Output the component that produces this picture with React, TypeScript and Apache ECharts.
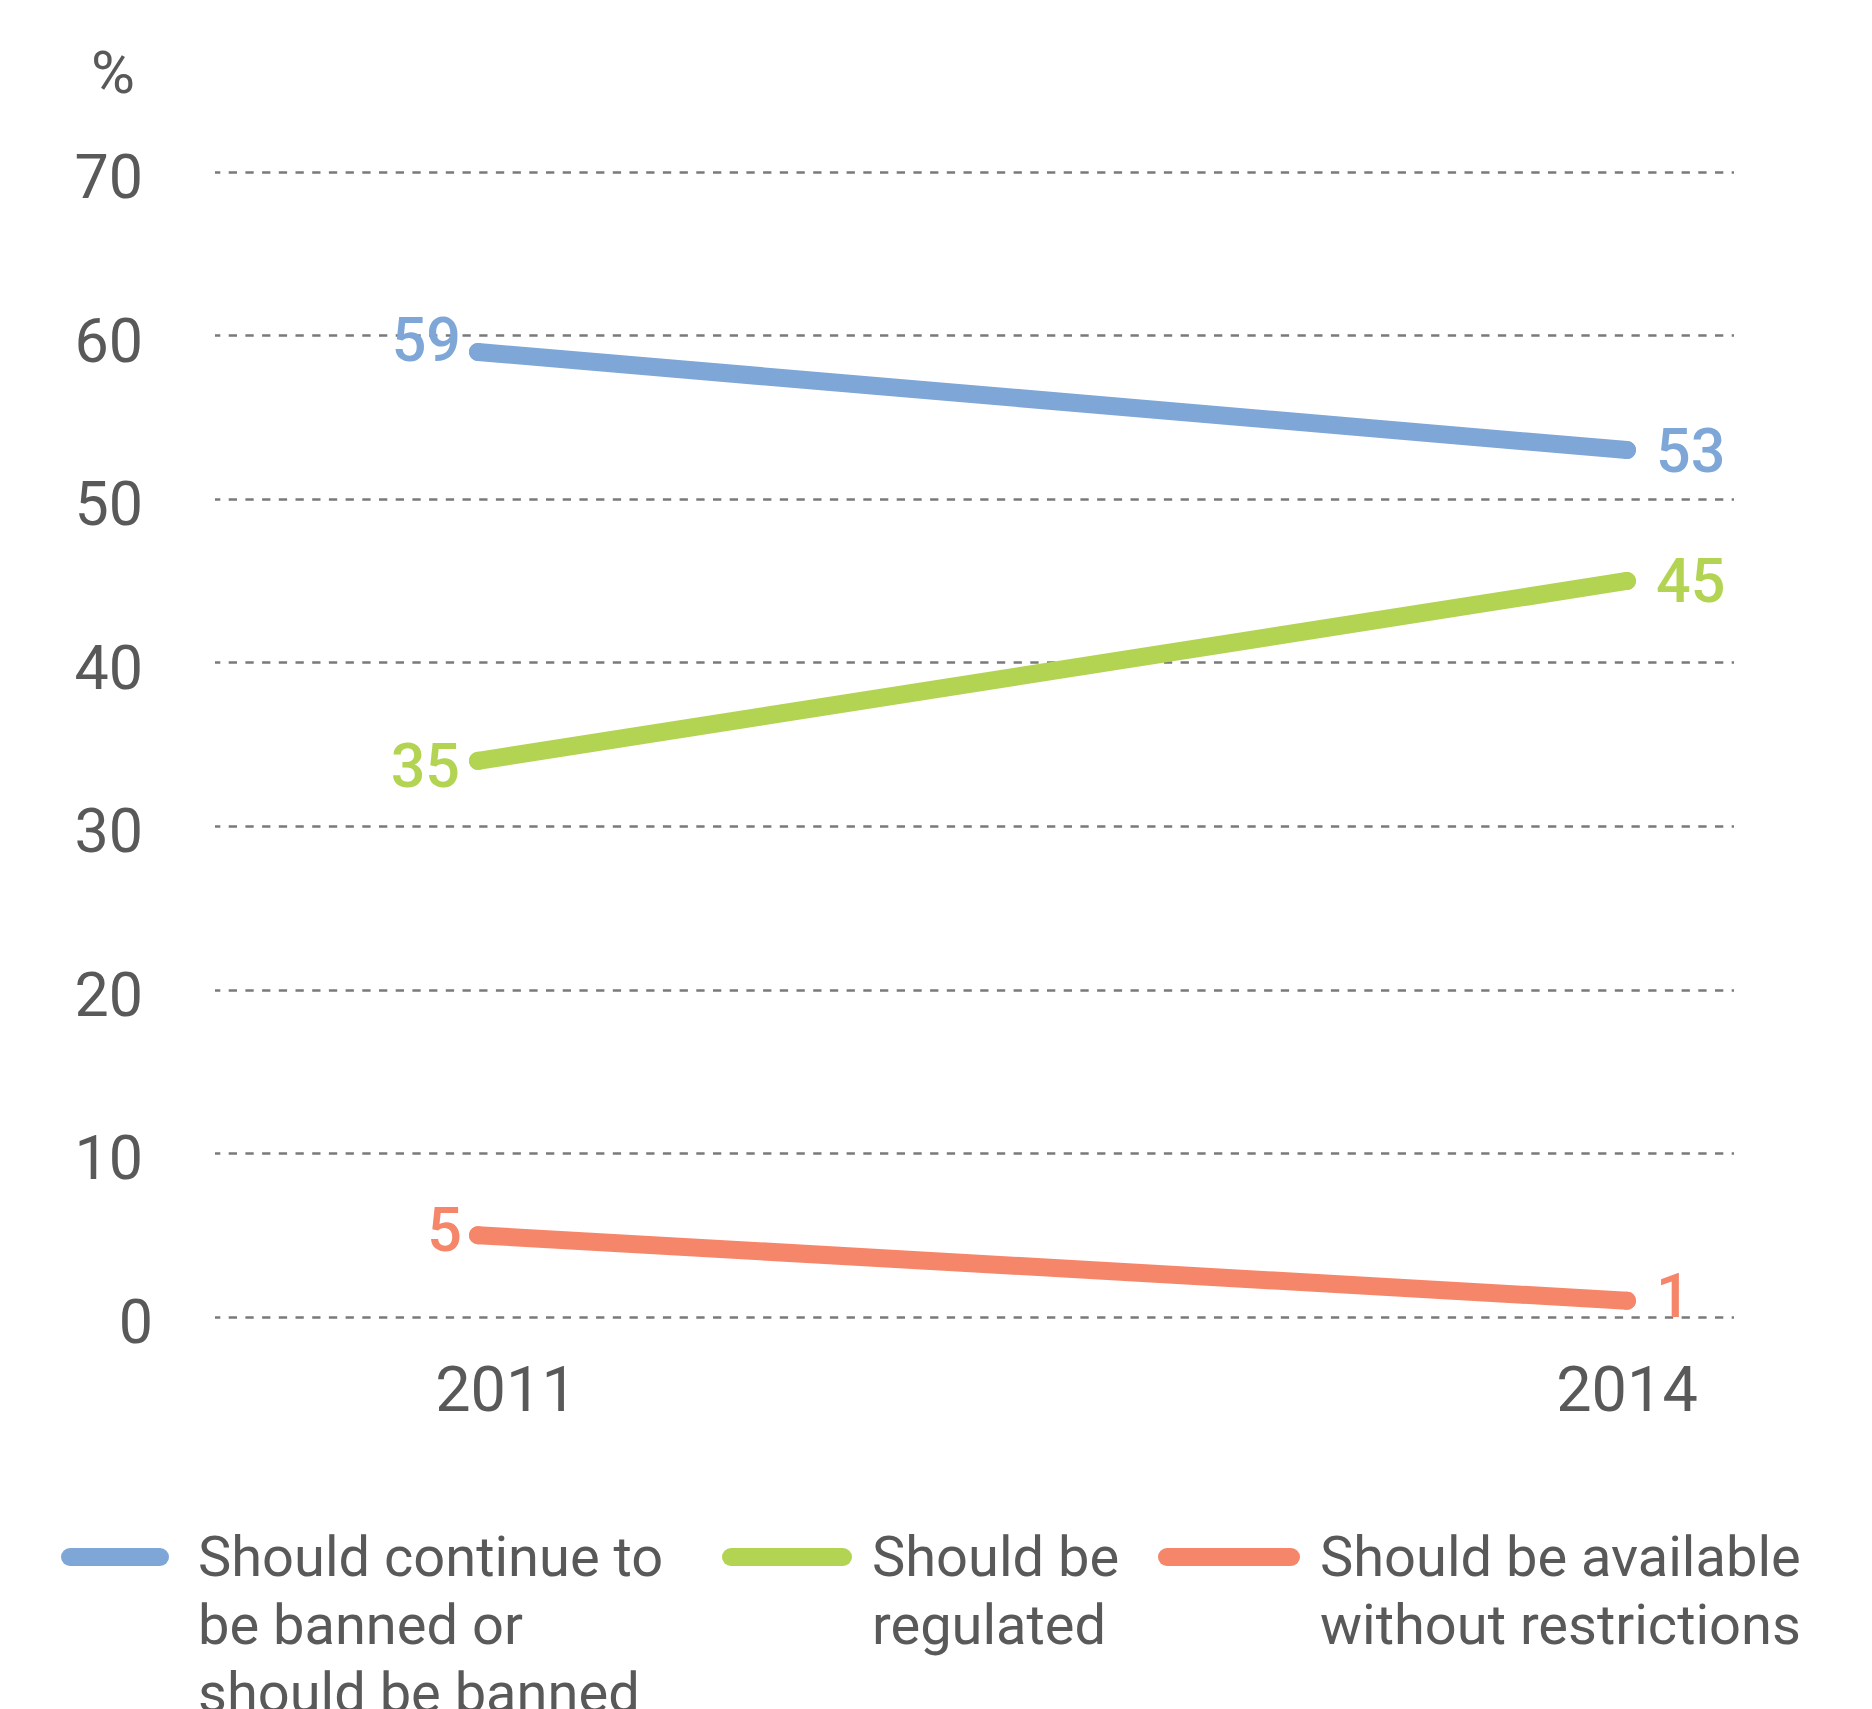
import React, { useEffect, useRef } from 'react';
import * as echarts from 'echarts';

const years = ['2011', '2014'];
const seriesNames = [
  'Should continue to be banned or should be banned',
  'Should be regulated',
  'Should be available without restrictions',
];
const legendLines = [
  ['Should continue to', 'be banned or', 'should be banned'],
  ['Should be', 'regulated'],
  ['Should be available', 'without restrictions'],
];
const bannedValues = [59, 53];
const regulatedValues = [34, 45];
const unrestrictedValues = [5, 1];
const bannedLabels = ['59', '53'];
const regulatedLabels = ['35', '45'];
const unrestrictedLabels = ['5', '1'];
const yMin = 0;
const yMax = 70;
const yStep = 10;
const yUnit = '%';

const colors = ['#7ea7d8', '#b3d453', '#f5866a'];
const textGray = '#595959';
const FONT = 'Roboto';

export default function App() {
  const ref = useRef<HTMLDivElement>(null);
  useEffect(() => {
    const chart = echarts.init(ref.current!, null, { renderer: 'svg' });

    const labelPlacement = [
      [
        { position: 'left', distance: 8, offset: [0, -12] },
        { position: 'right', distance: 20, offset: [0, 1] },
      ],
      [
        { position: 'left', distance: 9, offset: [0, 5] },
        { position: 'right', distance: 20, offset: [0, 0] },
      ],
      [
        { position: 'left', distance: 7, offset: [0, -5] },
        { position: 'right', distance: 20, offset: [0, -5] },
      ],
    ];
    const valueSets = [bannedValues, regulatedValues, unrestrictedValues];
    const labelSets = [bannedLabels, regulatedLabels, unrestrictedLabels];

    const series = valueSets.map((vals, si) => ({
      name: seriesNames[si],
      type: 'line',
      xAxisIndex: 1,
      yAxisIndex: 1,
      symbol: 'circle',
      symbolSize: 18,
      color: colors[si],
      itemStyle: { color: colors[si], borderWidth: 0 },
      lineStyle: { width: 18, color: colors[si], cap: 'round' },
      emphasis: { disabled: true },
      data: vals.map((v, i) => ({
        value: v,
        label: {
          show: true,
          formatter: labelSets[si][i],
          position: labelPlacement[si][i].position,
          distance: labelPlacement[si][i].distance,
          offset: labelPlacement[si][i].offset,
          color: colors[si],
          fontFamily: FONT,
          fontWeight: 500,
          fontSize: 61,
        },
      })),
    }));

    const legendLeft = [61, 722, 1158];
    const legendWidth = [108, 130, 142];
    const legendTextPad = [24, 15, 15];
    const symCenterY = 1557;
    const lineH = 68;
    const legends = seriesNames.map((name, i) => {
      const n = legendLines[i].length;
      const w = legendWidth[i];
      const h = 18;
      const r = h / 2;
      const totalLines = 2 * n - 1;
      const blanks = new Array(n - 1).fill(' ');
      return {
        show: true,
        data: [name],
        left: legendLeft[i],
        top: symCenterY - (totalLines * lineH) / 2,
        padding: 0,
        itemWidth: w,
        itemHeight: h,
        selectedMode: false,
        icon: `path://M${r} 0H${w - r}A${r} ${r} 0 0 1 ${w - r} ${h}H${r}A${r} ${r} 0 0 1 ${r} 0Z`,
        itemStyle: { borderWidth: 0 },
        formatter: () =>
          [...blanks, ...legendLines[i]].map((t) => `{t|${t}}`).join('\n'),
        textStyle: {
          fontFamily: FONT,
          fontSize: 56,
          color: textGray,
          lineHeight: lineH,
          rich: {
            t: {
              fontFamily: FONT,
              fontSize: 56,
              color: textGray,
              lineHeight: lineH,
              padding: [0, 0, 0, legendTextPad[i]],
            },
          },
        },
      };
    });

    const option = {
      animation: false,
      grid: [
        { left: 215, right: 138, top: 172, bottom: 392 },
        { left: 478, right: 245, top: 172, bottom: 392 },
      ],
      xAxis: [
        {
          gridIndex: 0,
          type: 'category',
          data: years,
          show: false,
        },
        {
          gridIndex: 1,
          type: 'category',
          data: years,
          boundaryGap: false,
          axisLine: { show: false },
          axisTick: { show: false },
          splitLine: { show: false },
          axisLabel: {
            margin: 41,
            formatter: (v: string, idx: number) => (idx === 0 ? `{s|${v}}` : `{n|${v}}`),
            rich: {
              s: { fontFamily: FONT, fontSize: 63, color: textGray, padding: [0, 0, 0, 56] },
              n: { fontFamily: FONT, fontSize: 63, color: textGray },
            },
          },
        },
      ],
      yAxis: [
        {
          gridIndex: 0,
          type: 'value',
          min: yMin,
          max: yMax,
          interval: yStep,
          name: yUnit,
          nameLocation: 'end',
          nameGap: 100,
          nameTextStyle: {
            fontFamily: FONT,
            fontSize: 60,
            color: textGray,
            align: 'right',
            verticalAlign: 'middle',
            padding: [0, 80, 0, 0],
          },
          axisLine: { show: false },
          axisTick: { show: false },
          splitLine: {
            show: true,
            lineStyle: { color: '#7a7a7a', width: 2.5, type: [8.3, 8.4], dashOffset: 3.3 },
          },
          axisLabel: {
            margin: 62,
            formatter: (v: number) => (v === 0 ? `{z|${v}}` : `{n|${v}}`),
            rich: {
              z: { fontFamily: FONT, fontSize: 61, color: textGray, padding: [10, 0, 0, 0] },
              n: { fontFamily: FONT, fontSize: 61, color: textGray, padding: [10, 10, 0, 0] },
            },
          },
        },
        {
          gridIndex: 1,
          type: 'value',
          min: yMin,
          max: yMax,
          interval: yStep,
          show: false,
          splitLine: { show: false },
        },
      ],
      legend: legends,
      series,
    };
    chart.setOption(option as any);
    return () => chart.dispose();
  }, []);
  return (
    <div
      ref={ref}
      style={{ position: 'absolute', left: 0, top: 0, width: 1872, height: 1709, background: '#fff' }}
    />
  );
}
